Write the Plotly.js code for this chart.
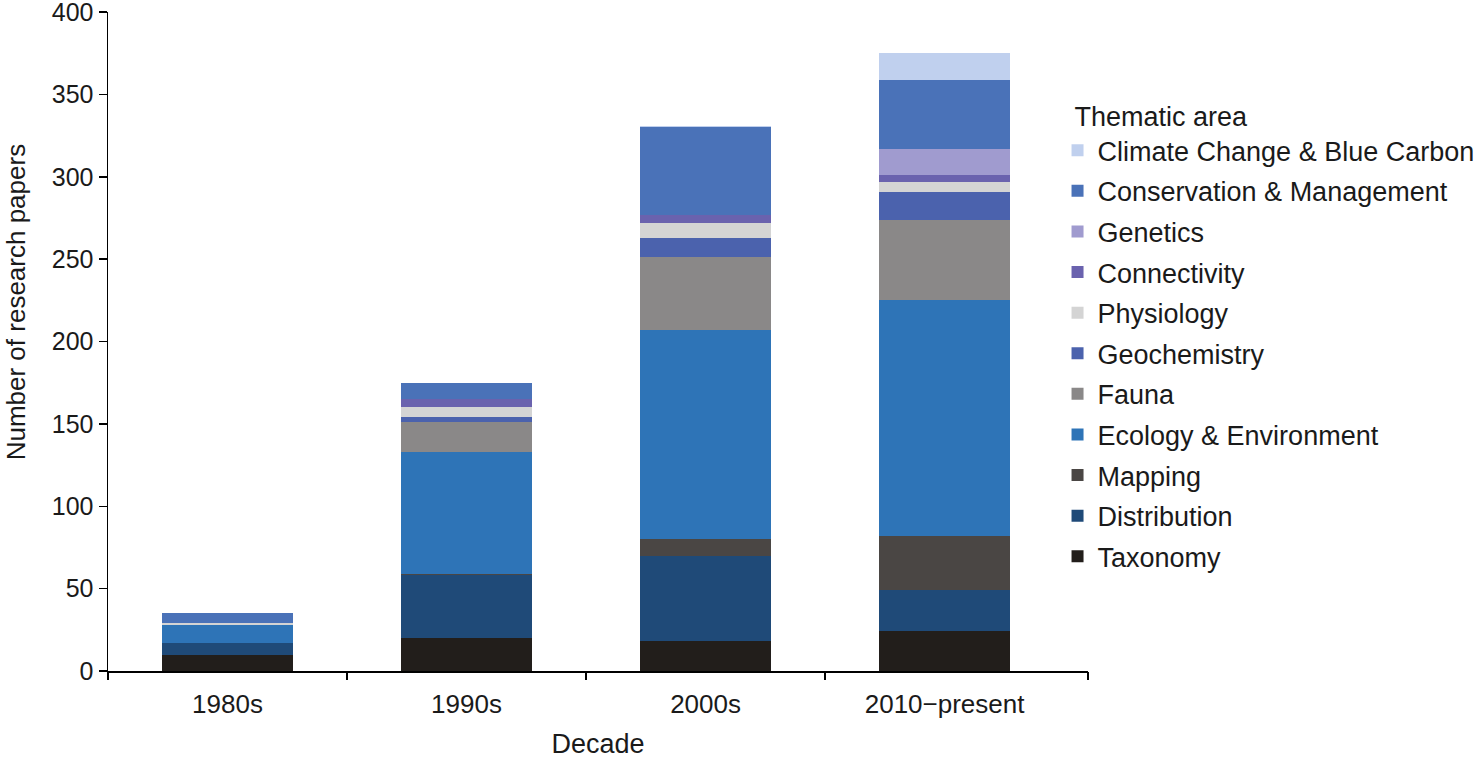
<!DOCTYPE html>
<html>
<head>
<meta charset="utf-8">
<script src="https://cdn.plot.ly/plotly-3.0.1.min.js"></script>
<style>html,body{margin:0;padding:0;background:#fff;}#chart{width:1477px;height:759px;}</style>
</head>
<body>
<div id="chart"></div>
<script>
const categories = ["1980s", "1990s", "2000s", "2010\u2212present"];
const taxonomy      = [10, 20, 18, 24];
const distribution  = [7, 38, 52, 25];
const mapping       = [0, 1, 10, 33];
const ecology       = [11, 74, 127, 143];
const fauna         = [0, 18, 44, 49];
const geochemistry  = [0, 3, 12, 17];
const physiology    = [1, 6, 9, 6];
const connectivity  = [0, 5, 5, 4];
const genetics      = [0, 0, 0, 16];
const conservation  = [6, 10, 53, 42];
const climate       = [0, 0, 1, 16];
const yTicks = [0, 50, 100, 150, 200, 250, 300, 350, 400];

const series = [
  ["Taxonomy", taxonomy, "#221e1b"],
  ["Distribution", distribution, "#1f4a78"],
  ["Mapping", mapping, "#4a4644"],
  ["Ecology & Environment", ecology, "#2e74b7"],
  ["Fauna", fauna, "#8a8888"],
  ["Geochemistry", geochemistry, "#4b62ad"],
  ["Physiology", physiology, "#d4d4d4"],
  ["Connectivity", connectivity, "#6a62ae"],
  ["Genetics", genetics, "#a09bcf"],
  ["Conservation & Management", conservation, "#4a72b8"],
  ["Climate Change & Blue Carbon", climate, "#c0d0ee"]
];

const font = "Liberation Sans, Arial, sans-serif";
const txt = {family: font, size: 27, color: "#1a1a1a"};
const xTickFont = {family: font, size: 26, color: "#1a1a1a"};
const yTickFont = {family: font, size: 25, color: "#1a1a1a"};
const traces = series.map((s, i) => ({
  type: "bar",
  name: s[0],
  x: categories,
  y: s[1],
  width: 0.55,
  legendgroup: s[0],
  legendrank: 100 + series.length - i,
  marker: {color: s[2], line: {width: 0}},
  hoverinfo: "name+y"
}));
traces.push({
  type: "scatter", mode: "none", x: [0], y: [0],
  xaxis: "x2", yaxis: "y", showlegend: false, hoverinfo: "skip"
});

const layout = {
  width: 1477, height: 759,
  margin: {l: 108, r: 389, t: 12, b: 88, autoexpand: false},
  paper_bgcolor: "#fff", plot_bgcolor: "#fff",
  barmode: "stack",
  font: txt,
  showlegend: true,
  legend: {
    xref: "container", yref: "container",
    x: 0.716, y: 0.88, xanchor: "left", yanchor: "top",
    traceorder: "grouped", tracegroupgap: 2.5,
    maxheight: 700,
    font: txt,
    title: {text: "\u00a0\u00a0Thematic area", font: txt},
    itemwidth: 30
  },
  xaxis: {
    type: "category",
    range: [-0.5, 3.6],
    showline: true, linecolor: "#000", linewidth: 1.5,
    ticks: "", showgrid: false, zeroline: false,
    ticklabelstandoff: 9,
    tickfont: xTickFont,
    title: {text: "Decade", font: txt, standoff: 17}
  },
  xaxis2: {
    overlaying: "x", range: [-0.5, 3.6],
    tickmode: "array", tickvals: [-0.5, 0.5, 1.5, 2.5, 3.6],
    ticks: "outside", ticklen: 8, tickwidth: 1.5, tickcolor: "#000",
    showticklabels: false, showline: false, showgrid: false, zeroline: false
  },
  yaxis: {
    range: [0, 400],
    tickmode: "array", tickvals: yTicks,
    showline: true, linecolor: "#000", linewidth: 1.5,
    ticks: "outside", ticklen: 8, tickwidth: 1.5, tickcolor: "#000",
    ticklabeloverflow: "allow",
    showgrid: false, zeroline: false,
    tickfont: yTickFont
  },
  annotations: [{
    text: "Number of research papers", font: {family: font, size: 26, color: "#1a1a1a"},
    xref: "paper", yref: "paper", x: -0.0935, y: 0.56,
    xanchor: "center", yanchor: "middle", textangle: -90, showarrow: false
  }]
};

Plotly.newPlot("chart", traces, layout, {displayModeBar: false, staticPlot: true});
</script>
</body>
</html>
